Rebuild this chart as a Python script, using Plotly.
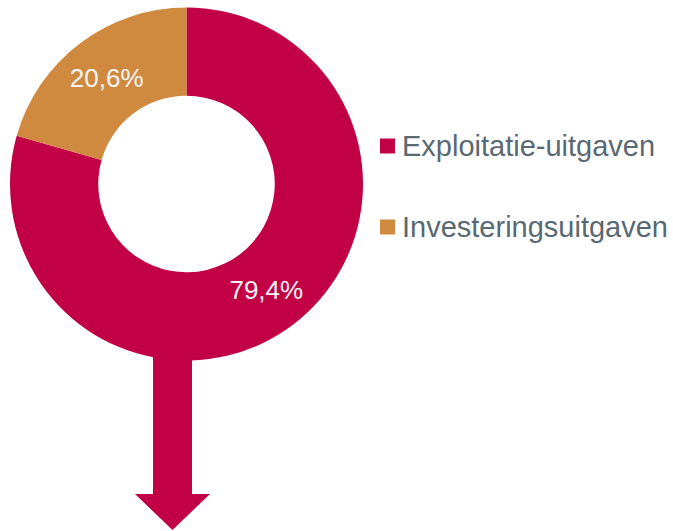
import plotly.graph_objects as go

W, H = 673, 531

labels = ["Exploitatie-uitgaven", "Investeringsuitgaven"]
values = [79.4, 20.6]
text_labels = ["79,4%", "20,6%"]
colors = ["#C20045", "#D08A3F"]
legend_color = "#596873"


def px(x):
    return x / W


def py(y):
    return 1 - y / H


fig = go.Figure()
fig.add_trace(go.Pie(
    labels=labels,
    values=values,
    text=text_labels,
    textinfo="text",
    textposition="inside",
    insidetextorientation="horizontal",
    insidetextfont=dict(family="Liberation Sans, Arial, sans-serif", size=26, color="#F4F4F4"),
    marker=dict(colors=colors, line=dict(width=0)),
    hole=0.5,
    sort=False,
    direction="clockwise",
    rotation=0,
    showlegend=False,
    hoverinfo="none",
    domain=dict(x=[px(10), px(363)], y=[py(361), py(7)]),
))

shapes = []
# arrow below the donut
ax0, ax1 = 153, 192
hx0, hx1 = 135, 210
top, neck, tip = 330, 494, 530
cx = (hx0 + hx1) / 2
path = (f"M {px(ax0)},{py(top)} L {px(ax1)},{py(top)} L {px(ax1)},{py(neck)} "
        f"L {px(hx1)},{py(neck)} L {px(cx)},{py(tip)} L {px(hx0)},{py(neck)} "
        f"L {px(ax0)},{py(neck)} Z")
shapes.append(dict(type="path", xref="paper", yref="paper", path=path,
                   fillcolor=colors[0], line=dict(width=0), layer="below"))

annotations = []
legend_rows = [146, 227]
for lab, col, yc in zip(labels, colors, legend_rows):
    shapes.append(dict(type="rect", xref="paper", yref="paper",
                       x0=px(380), x1=px(395), y0=py(yc - 7.5), y1=py(yc + 7.5),
                       fillcolor=col, line=dict(width=0)))
    annotations.append(dict(xref="paper", yref="paper", x=px(400), y=py(yc),
                            xanchor="left", yanchor="middle", showarrow=False,
                            text=lab,
                            font=dict(family="Liberation Sans, Arial, sans-serif",
                                      size=29, color=legend_color)))

fig.update_layout(
    width=W, height=H,
    margin=dict(l=0, r=0, t=0, b=0),
    paper_bgcolor="white",
    plot_bgcolor="white",
    shapes=shapes,
    annotations=annotations,
    showlegend=False,
)

fig.write_html("out.html", config={"displayModeBar": False},
               post_script="document.body.style.margin='0';document.body.style.overflow='hidden';")
